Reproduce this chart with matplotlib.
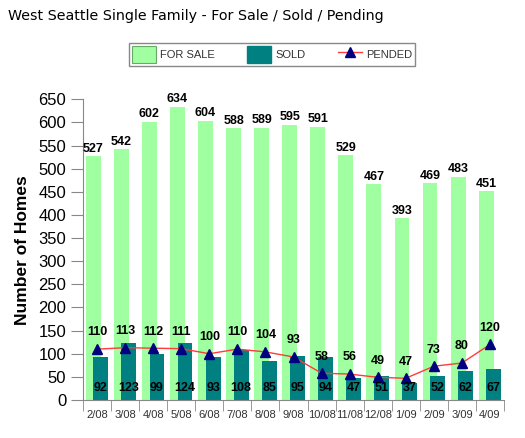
import numpy as np
from matplotlib import pyplot as plt
from matplotlib.patches import Patch
from matplotlib.lines import Line2D

# Datos
meses = ['2/08', '3/08', '4/08', '5/08', '6/08', '7/08', '8/08', '9/08',
         '10/08', '11/08', '12/08', '1/09', '2/09', '3/09', '4/09']
for_sale = [527, 542, 602, 634, 604, 588, 589, 595, 591, 529, 467, 393, 469, 483, 451]
sold = [92, 123, 99, 124, 93, 108, 85, 95, 94, 47, 51, 37, 52, 62, 67]
pended = [110, 113, 112, 111, 100, 110, 104, 93, 58, 56, 49, 47, 73, 80, 120]

c_sale = '#a0ffa0'
c_sold = '#008080'
c_pend = '#000080'
c_line = '#ff3b3b'
gris = '#888888'

x = np.arange(len(meses))
ancho = 0.53
desp = 0.135

fig = plt.figure(figsize=(5.25, 4.38), dpi=100)
ax = fig.add_axes([83/525, 38/438, 421/525, 300.7/438])

ax.bar(x - desp, for_sale, width=ancho, color=c_sale, zorder=1)
ax.bar(x + desp, sold, width=ancho, color=c_sold, zorder=2)
ax.plot(x, pended, color=c_line, lw=1, zorder=3)
ax.plot(x, pended, ls='none', marker='^', ms=7, color=c_pend, zorder=4)

fnt = 'Liberation Sans'
for i in range(len(meses)):
    ax.annotate(str(for_sale[i]), (x[i] - desp, for_sale[i]), xytext=(0, 1),
                textcoords='offset points', ha='center', va='bottom',
                fontsize=9, fontweight='bold', family=fnt, zorder=5)
    ax.text(x[i] + desp, 26, str(sold[i]), ha='center', va='center',
            fontsize=9, fontweight='bold', family=fnt, zorder=5)
    ax.annotate(str(pended[i]), (x[i], pended[i]), xytext=(0, 12),
                textcoords='offset points', ha='center', va='center',
                fontsize=9, fontweight='bold', family=fnt, zorder=5)

ax.set_xlim(-0.5, len(meses) - 0.5)
ax.set_ylim(0, 650)
ax.set_yticks(np.arange(0, 651, 50))
ax.set_xticks(x)
ax.set_xticklabels(meses, fontsize=8, family=fnt, color='#333333')
ax.set_xticks(np.arange(-0.5, len(meses), 1), minor=True)
ax.tick_params(axis='x', which='major', length=0, pad=7)
ax.tick_params(axis='x', which='minor', length=8, color=gris, direction='out')
ax.tick_params(axis='y', length=9, color=gris, pad=3, labelsize=12)
for t in ax.get_yticklabels():
    t.set_family(fnt)

for s in ['top', 'right']:
    ax.spines[s].set_visible(False)
for s in ['left', 'bottom']:
    ax.spines[s].set_color(gris)

ax.set_ylabel('Number of Homes', fontsize=12.5, fontweight='bold', family=fnt, labelpad=6)

fig.text(8/525, 1 - 16/438, 'West Seattle Single Family - For Sale / Sold / Pending',
         fontsize=10.3, family='DejaVu Sans', va='center', ha='left')

handles = [Patch(facecolor=c_sale, edgecolor='#66aa66', lw=0.8),
           Patch(facecolor=c_sold, edgecolor=c_sold),
           Line2D([], [], color=c_line, lw=1, marker='^', ms=7,
                  markerfacecolor=c_pend, markeredgecolor=c_pend)]
leg = fig.legend(handles, ['FOR SALE', 'SOLD', 'PENDED'], loc='center',
                 bbox_to_anchor=(272/525, 1 - 54.5/438), ncol=3,
                 prop={'family': fnt, 'size': 8}, frameon=True, fancybox=False,
                 edgecolor=gris, framealpha=1, handlelength=2.15, handleheight=2.0,
                 handletextpad=0.4, columnspacing=2.9, borderpad=0.25,
                 borderaxespad=0)
leg.get_frame().set_linewidth(1)
for t in leg.get_texts():
    t.set_color('#333333')

fig.savefig('out.png', dpi=100)
